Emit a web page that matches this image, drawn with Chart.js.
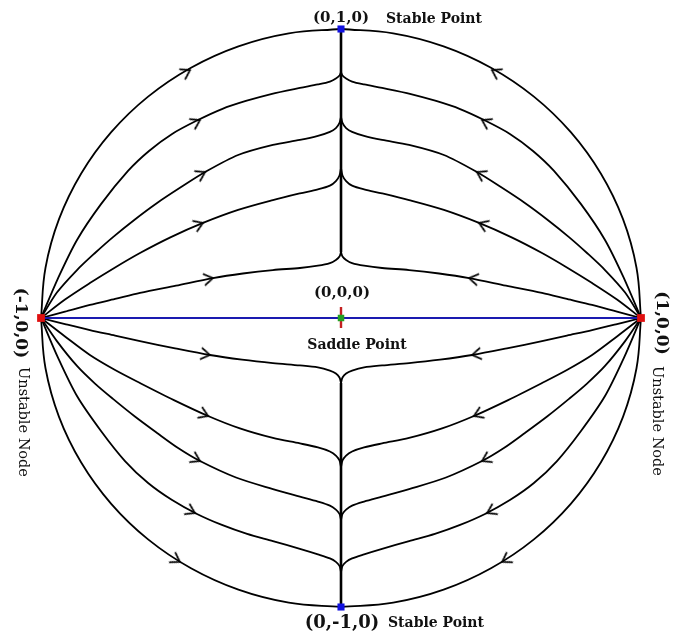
<!DOCTYPE html>
<html>
<head>
<meta charset="utf-8">
<script src="https://cdn.jsdelivr.net/npm/chart.js@4.4.1/dist/chart.umd.min.js"></script>
<style>
  html, body { margin: 0; padding: 0; background: #fff; }
  #wrap { width: 681px; height: 634px; }
</style>
</head>
<body>
<div id="wrap"><canvas id="c" width="681" height="634"></canvas></div>
<script>
// Poincare disk, x and y both run -1..1
// left halves of the trajectories (from node (-1,0) to the cusp on x = 0)
const boundaryTop = [[-1, 0], [-0.985, 0.174], [-0.94, 0.342], [-0.866, 0.5], [-0.766, 0.643], [-0.643, 0.766],
  [-0.5, 0.866], [-0.342, 0.94], [-0.174, 0.985], [0, 1]];
const boundaryBottom = [[-1, 0], [-0.985, -0.174], [-0.94, -0.342], [-0.866, -0.5], [-0.766, -0.643], [-0.643, -0.766],
  [-0.5, -0.866], [-0.342, -0.94], [-0.174, -0.985], [0, -1]];

const upper1 = [[-1, 0], [-0.943, 0.138], [-0.88, 0.27], [-0.8, 0.394], [-0.71, 0.509], [-0.64, 0.578],
  [-0.563, 0.637], [-0.477, 0.685], [-0.397, 0.723], [-0.317, 0.751], [-0.233, 0.775], [-0.137, 0.796],
  [-0.077, 0.808], [-0.037, 0.818], [-0.017, 0.829], [-0.005, 0.839], [0, 0.851]];
const upper2 = [[-1, 0], [-0.947, 0.088], [-0.88, 0.166], [-0.82, 0.225], [-0.76, 0.28], [-0.687, 0.341],
  [-0.613, 0.398], [-0.533, 0.453], [-0.453, 0.505], [-0.343, 0.564], [-0.227, 0.599], [-0.137, 0.616],
  [-0.077, 0.63], [-0.037, 0.644], [-0.017, 0.657], [-0.005, 0.675], [0, 0.696]];
const upper3 = [[-1, 0], [-0.92, 0.064], [-0.837, 0.121], [-0.753, 0.175], [-0.67, 0.225], [-0.567, 0.28],
  [-0.46, 0.329], [-0.343, 0.374], [-0.227, 0.408], [-0.137, 0.431], [-0.077, 0.445], [-0.037, 0.458],
  [-0.017, 0.474], [-0.005, 0.493], [0, 0.519]];
const upper4 = [[-1, 0], [-0.92, 0.022], [-0.837, 0.045], [-0.753, 0.066], [-0.67, 0.087], [-0.55, 0.112],
  [-0.427, 0.138], [-0.327, 0.154], [-0.227, 0.166], [-0.137, 0.173], [-0.077, 0.181], [-0.037, 0.19],
  [-0.017, 0.201], [-0.005, 0.213], [0, 0.228]];

const lower4 = [[-1, 0], [-0.92, -0.021], [-0.837, -0.042], [-0.753, -0.061], [-0.67, -0.08], [-0.553, -0.105],
  [-0.437, -0.128], [-0.33, -0.144], [-0.227, -0.156], [-0.137, -0.164], [-0.077, -0.171], [-0.037, -0.182],
  [-0.017, -0.192], [-0.005, -0.206], [0, -0.225]];
const lower3 = [[-1, 0], [-0.92, -0.064], [-0.837, -0.128], [-0.753, -0.18], [-0.67, -0.225], [-0.557, -0.284],
  [-0.443, -0.339], [-0.337, -0.382], [-0.227, -0.415], [-0.137, -0.434], [-0.077, -0.448], [-0.037, -0.462],
  [-0.017, -0.476], [-0.005, -0.493], [0, -0.516]];
const lower2 = [[-1, 0], [-0.947, -0.08], [-0.88, -0.166], [-0.82, -0.227], [-0.76, -0.28], [-0.687, -0.341],
  [-0.613, -0.398], [-0.543, -0.45], [-0.47, -0.495], [-0.35, -0.552], [-0.227, -0.592], [-0.137, -0.618],
  [-0.077, -0.635], [-0.037, -0.649], [-0.017, -0.663], [-0.005, -0.678], [0, -0.699]];
const lower1 = [[-1, 0], [-0.943, -0.138], [-0.88, -0.27], [-0.8, -0.391], [-0.72, -0.495], [-0.643, -0.571],
  [-0.563, -0.63], [-0.48, -0.678], [-0.397, -0.716], [-0.313, -0.747], [-0.227, -0.772], [-0.137, -0.799],
  [-0.077, -0.818], [-0.037, -0.832], [-0.017, -0.844], [-0.005, -0.858], [0, -0.879]];

// arrow heads on the left side (right side is the mirror image, pointing back to the axis)
const arrowPts = [[-0.503, 0.858], [-0.47, 0.685], [-0.453, 0.505], [-0.46, 0.329], [-0.427, 0.138],
  [-0.437, -0.128], [-0.443, -0.339], [-0.47, -0.495], [-0.487, -0.675], [-0.537, -0.844]];
const arrowAngles = [-29, -28, -28, -22, -10, 9.5, 23, 27, 27, 31]; // degrees, screen

const axisTop = [[0, 0.228], [0, 1]];
const axisBottom = [[0, -1], [0, -0.225]];
const separatrix = [[-1, 0], [1, 0]];
const unstableNodes = [[-1, 0], [1, 0]];
const stablePoints = [[0, 1], [0, -1]];
const saddle = [[0, 0]];
const saddleTick = [[0, 0.038], [0, -0.035]];

const xy = arr => arr.map(p => ({ x: p[0], y: p[1] }));
const mirror = arr => arr.map(p => [-p[0], p[1]]).reverse();

function curve(pts, extra) {
  return Object.assign({
    data: xy(pts), showLine: true, pointRadius: 0, borderColor: '#000', borderWidth: 1.8,
    tension: 0.3, clip: false, order: 5
  }, extra || {});
}

function chevron() {
  const c = document.createElement('canvas');
  c.width = 24; c.height = 24;
  const g = c.getContext('2d');
  g.strokeStyle = '#000';
  g.lineWidth = 1.7;
  g.lineCap = 'round';
  g.lineJoin = 'miter';
  g.beginPath();
  g.moveTo(3.5, 6.5); g.lineTo(12, 12); g.lineTo(3.5, 17.5);
  g.stroke();
  return c;
}
const arrowImg = chevron();

const datasets = [];
datasets.push(curve(boundaryTop, { tension: 0.4 }), curve(mirror(boundaryTop), { tension: 0.4 }));
datasets.push(curve(boundaryBottom, { tension: 0.4 }), curve(mirror(boundaryBottom), { tension: 0.4 }));
[upper1, upper2, upper3, upper4, lower1, lower2, lower3, lower4].forEach(a => {
  datasets.push(curve(a));
  datasets.push(curve(mirror(a)));
});
datasets.push(curve(axisTop, { borderWidth: 2.6, tension: 0 }));
datasets.push(curve(axisBottom, { borderWidth: 2.6, tension: 0 }));
datasets.push(curve(separatrix, { borderColor: '#1a1ab0', borderWidth: 2, tension: 0, order: 4 }));
datasets.push(curve(saddleTick, { borderColor: '#c42020', borderWidth: 2.4, tension: 0, order: 3 }));
datasets.push({
  data: xy(arrowPts), pointStyle: arrowImg, pointRadius: 5, pointRotation: arrowAngles, clip: false, order: 2
});
datasets.push({
  data: xy(arrowPts.map(p => [-p[0], p[1]])), pointStyle: arrowImg, pointRadius: 5,
  pointRotation: arrowAngles.map(a => 180 - a), clip: false, order: 2
});
datasets.push({
  data: xy(unstableNodes), pointStyle: 'rect', pointRadius: 5.5, backgroundColor: '#e01010',
  borderColor: '#e01010', borderWidth: 0, clip: false, order: 1
});
datasets.push({
  data: xy(stablePoints), pointStyle: 'rect', pointRadius: 5, backgroundColor: '#1010e0',
  borderColor: '#1010e0', borderWidth: 0, clip: false, order: 1
});
datasets.push({
  data: xy(saddle), pointStyle: 'rect', pointRadius: 4.6, backgroundColor: '#22a022',
  borderColor: '#22a022', borderWidth: 0, clip: false, order: 0
});

// text labels: anchor in data units, offset in pixels
const labels = [
  { t: '(0,1,0)', at: [0, 1], off: [0, -11], font: 'bold 15px "DejaVu Serif"', align: 'center' },
  { t: 'Stable Point', at: [0, 1], off: [45, -10], font: 'bold 14px "DejaVu Serif"', align: 'left' },
  { t: '(0,0,0)', at: [0, 0], off: [1, -25], font: 'bold 15px "DejaVu Serif"', align: 'center' },
  { t: 'Saddle Point', at: [0, 0], off: [16, 27], font: 'bold 14px "DejaVu Serif"', align: 'center' },
  { t: '(0,-1,0)', at: [0, -1], off: [1, 16], font: 'bold 18px "DejaVu Serif"', align: 'center' },
  { t: 'Stable Point', at: [0, -1], off: [47, 16], font: 'bold 14px "DejaVu Serif"', align: 'left' },
  { t: '(-1,0,0)', at: [-1, 0], off: [-20.5, 5], font: 'bold 17px "DejaVu Serif"', align: 'center', rot: 90 },
  { t: 'Unstable Node', at: [-1, 0], off: [-18, 104], font: '14.5px "DejaVu Serif"', align: 'center', rot: 90 },
  { t: '(1,0,0)', at: [1, 0], off: [20, 5], font: 'bold 17px "DejaVu Serif"', align: 'center', rot: 90 },
  { t: 'Unstable Node', at: [1, 0], off: [15.5, 103], font: '14.5px "DejaVu Serif"', align: 'center', rot: 90 }
];

const labelPlugin = {
  id: 'pointLabels',
  afterDatasetsDraw(chart) {
    const { ctx, scales } = chart;
    ctx.save();
    ctx.fillStyle = '#111';
    ctx.textBaseline = 'middle';
    labels.forEach(l => {
      const px = scales.x.getPixelForValue(l.at[0]) + l.off[0];
      const py = scales.y.getPixelForValue(l.at[1]) + l.off[1];
      ctx.save();
      ctx.translate(px, py);
      if (l.rot) ctx.rotate(l.rot * Math.PI / 180);
      ctx.font = l.font;
      ctx.textAlign = l.align;
      ctx.fillText(l.t, 0, 0);
      ctx.restore();
    });
    ctx.restore();
  }
};

new Chart(document.getElementById('c'), {
  type: 'scatter',
  data: { datasets },
  options: {
    responsive: false,
    animation: false,
    devicePixelRatio: 1,
    layout: { padding: { left: 41, right: 40, top: 29, bottom: 27 } },
    plugins: { legend: { display: false }, tooltip: { enabled: false } },
    scales: {
      x: { type: 'linear', min: -1, max: 1, display: false },
      y: { type: 'linear', min: -1, max: 1, display: false }
    }
  },
  plugins: [labelPlugin]
});
</script>
</body>
</html>
